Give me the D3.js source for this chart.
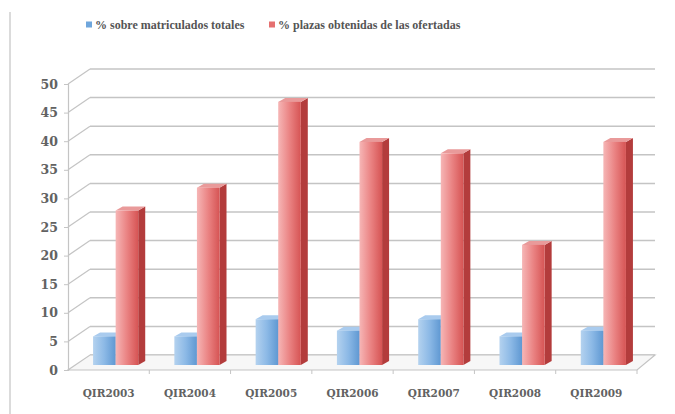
<!DOCTYPE html>
<html>
<head>
<meta charset="utf-8">
<script src="https://cdn.jsdelivr.net/npm/d3@7"></script>
<style>
  body { margin: 0; background: #fff; }
  svg { display: block; }
</style>
</head>
<body>
<svg id="chart" width="675" height="414"></svg>
<script>
// chart data
const years = ["QIR2003", "QIR2004", "QIR2005", "QIR2006", "QIR2007", "QIR2008", "QIR2009"];
const seriesNames = ["% sobre matriculados totales", "% plazas obtenidas de las ofertadas"];
const matriculados = [5, 5, 8, 6, 8, 5, 6];
const plazas = [27, 31, 46, 39, 37, 21, 39];
const yTicks = [0, 5, 10, 15, 20, 25, 30, 35, 40, 45, 50];

const svg = d3.select("#chart");
const W = 675, H = 414;
const serif = "'DejaVu Serif', 'Liberation Serif', serif";
const narrowSerif = "'Liberation Serif', 'DejaVu Serif', serif";

// 3d depth offsets (wall depth and where the bars sit)
const depth = { dx: 22, dy: -15 };
const barPos = { dx: 7, dy: -5 };
const barDepth = { dx: 7, dy: -4 };

const x0 = d3.scaleBand().domain(years).range([68, 637]).padding(0);
const x1 = d3.scaleBand().domain(seriesNames).range([0, x0.bandwidth()]).paddingInner(0).paddingOuter(0.8);
const y = d3.scaleLinear().domain([0, 50]).range([370, 84]);

// gradients
const defs = svg.append("defs");
function grad(id, stops) {
    const g = defs.append("linearGradient").attr("id", id).attr("x1", "0").attr("x2", "1").attr("y1", "0").attr("y2", "0");
    stops.forEach(s => g.append("stop").attr("offset", s[0]).attr("stop-color", s[1]));
}
grad("blueFront", [[0, "#b4d2ef"], [0.5, "#8cb9e6"], [1, "#5f98d2"]]);
grad("redFront", [[0, "#f6b6b6"], [0.5, "#ea8383"], [1, "#d65454"]]);

const colors = {
    blue: { front: "url(#blueFront)", side: "#4f80b8", top: "#a9cbee" },
    red: { front: "url(#redFront)", side: "#b33c3c", top: "#e99a9a" }
};

// left frame line
svg.append("line")
    .attr("x1", 10).attr("x2", 10).attr("y1", 12).attr("y2", H)
    .attr("stroke", "#cfcfcf").attr("stroke-width", 1.5);

const xL = x0.range()[0], xR = x0.range()[1];

// back wall gridlines + side diagonals
const grid = svg.append("g").attr("class", "grid");
yTicks.forEach(t => {
    const yy = y(t);
    grid.append("line")
        .attr("x1", xL + depth.dx).attr("x2", xR + depth.dx - 4)
        .attr("y1", yy + depth.dy).attr("y2", yy + depth.dy)
        .attr("stroke", "#c4c4c4").attr("stroke-width", 1.5);
    if (t > 0) {
        grid.append("line")
            .attr("x1", xL).attr("y1", yy)
            .attr("x2", xL + depth.dx).attr("y2", yy + depth.dy)
            .attr("stroke", "#c4c4c4").attr("stroke-width", 1.2);
    }
});

// floor
const y0 = y(0);
svg.append("path")
    .attr("d", `M${xL},${y0} L${xR},${y0} L${xR + depth.dx - 4},${y0 + depth.dy} L${xL + depth.dx},${y0 + depth.dy} Z`)
    .attr("fill", "#f7f7f7").attr("stroke", "#c4c4c4").attr("stroke-width", 1.2);

// bars
const bars = svg.append("g").attr("class", "bars");
years.forEach((yr, i) => {
    const vals = [
        { name: seriesNames[0], v: matriculados[i], c: colors.blue },
        { name: seriesNames[1], v: plazas[i], c: colors.red }
    ];
    vals.forEach(d => {
        const bx = x0(yr) + x1(d.name) + barPos.dx;
        const bw = x1.bandwidth();
        const top = y(d.v) + barPos.dy;
        const bot = y0 + barPos.dy;
        const g = bars.append("g");
        // side
        g.append("path")
            .attr("d", `M${bx + bw},${bot} L${bx + bw},${top} L${bx + bw + barDepth.dx},${top + barDepth.dy} L${bx + bw + barDepth.dx},${bot + barDepth.dy} Z`)
            .attr("fill", d.c.side);
        // top
        g.append("path")
            .attr("d", `M${bx},${top} L${bx + bw},${top} L${bx + bw + barDepth.dx},${top + barDepth.dy} L${bx + barDepth.dx},${top + barDepth.dy} Z`)
            .attr("fill", d.c.top);
        // front
        g.append("rect")
            .attr("x", bx).attr("y", top)
            .attr("width", bw).attr("height", bot - top)
            .attr("fill", d.c.front);
    });
});

// y axis on the front edge
const yAxis = svg.append("g")
    .attr("transform", `translate(${xL},0)`)
    .call(d3.axisLeft(y).tickValues(yTicks).tickSize(4).tickPadding(6));
yAxis.select(".domain").attr("stroke", "#c4c4c4").attr("stroke-width", 1.2);
yAxis.selectAll(".tick line").attr("stroke", "#c4c4c4");
yAxis.selectAll(".tick text")
    .style("font-family", serif).style("font-weight", "bold")
    .style("font-size", "12.5px").style("fill", "#626262");

// x axis
const xAxis = svg.append("g")
    .attr("transform", `translate(0,${y0})`)
    .call(d3.axisBottom(x0).tickSize(0).tickPadding(20));
xAxis.select(".domain").remove();
xAxis.selectAll(".tick text")
    .style("font-family", serif).style("font-weight", "bold")
    .style("font-size", "10.5px").style("fill", "#626262");
// category boundary ticks
svg.append("g").selectAll("line")
    .data(years)
    .join("line")
    .attr("x1", d => x0(d) + x0.bandwidth())
    .attr("x2", d => x0(d) + x0.bandwidth())
    .attr("y1", y0).attr("y2", y0 + 4)
    .attr("stroke", "#c4c4c4");

// legend
const legend = svg.append("g")
    .style("font-family", narrowSerif).style("font-size", "12px")
    .style("font-weight", "bold").style("fill", "#555");
const legX = [86, 269];
seriesNames.forEach((n, i) => {
    const g = legend.append("g").attr("transform", `translate(${legX[i]},25)`);
    g.append("rect").attr("x", 0).attr("y", -3.5).attr("width", 6).attr("height", 6)
        .attr("fill", i === 0 ? "#6fa6dc" : "#e57070");
    g.append("text").attr("x", 9).attr("y", 3.8).text(n);
});
</script>
</body>
</html>
